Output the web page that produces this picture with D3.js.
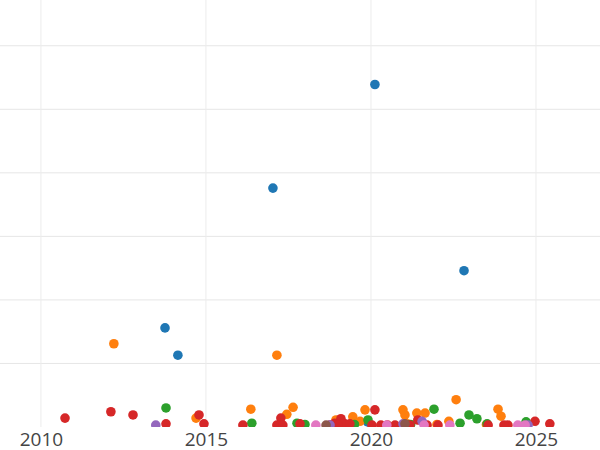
<!DOCTYPE html>
<html>
<head>
<meta charset="utf-8">
<script src="https://cdn.jsdelivr.net/npm/d3@7"></script>
<style>body{margin:0;background:#fff}</style>
</head>
<body>
<svg id="chart" width="600" height="450"></svg>
<script>
const xTicks = [2010, 2015, 2020, 2025];
const yGrid = [1, 2, 3, 4, 5, 6];
const groups = ["blue", "orange", "green", "red", "purple", "brown", "pink"];
const blueX = [2020.12, 2017.03, 2022.82, 2013.76, 2014.15, 2019.9];
const blueY = [5.39, 3.76, 2.46, 1.56, 1.13, 0.08];
const orangeX = [2012.21, 2017.15, 2022.58, 2017.64, 2016.36, 2019.82, 2020.97, 2023.85, 2017.45, 2014.70, 2019.45, 2021.39, 2021.64, 2021.03, 2023.94, 2022.36, 2018.94, 2019.67, 2019.1, 2021.1, 2022.0, 2023.5];
const orangeY = [1.31, 1.13, 0.43, 0.31, 0.28, 0.27, 0.27, 0.28, 0.20, 0.14, 0.16, 0.22, 0.22, 0.19, 0.17, 0.09, 0.11, 0.09, 0.06, 0.05, 0.04, 0.04];
const greenX = [2013.79, 2021.91, 2022.97, 2023.21, 2019.91, 2016.39, 2017.76, 2024.70, 2022.70, 2023.52, 2018.0, 2021.2, 2019.5];
const greenY = [0.30, 0.28, 0.19, 0.13, 0.11, 0.06, 0.06, 0.08, 0.06, 0.05, 0.04, 0.04, 0.04];
const redX = [2010.73, 2012.12, 2012.79, 2014.79, 2020.12, 2017.27, 2019.09, 2021.42, 2024.97, 2013.79, 2014.94, 2016.12, 2017.15, 2017.33, 2017.85, 2018.76, 2019.18, 2019.36, 2020.03, 2020.30, 2020.73, 2021.18, 2022.03, 2023.55, 2024.15, 2025.42, 2024.03, 2018.9, 2019.0, 2020.5, 2021.7];
const redY = [0.14, 0.24, 0.19, 0.19, 0.27, 0.14, 0.13, 0.11, 0.09, 0.05, 0.05, 0.03, 0.03, 0.03, 0.05, 0.03, 0.06, 0.05, 0.03, 0.03, 0.03, 0.03, 0.03, 0.03, 0.03, 0.05, 0.03, 0.06, 0.03, 0.03, 0.03];
const purpleX = [2013.48, 2020.97, 2021.55, 2024.76, 2018.76];
const purpleY = [0.03, 0.05, 0.09, 0.03, 0.03];
const brownX = [2018.64, 2021.03];
const brownY = [0.03, 0.05];
const pinkX = [2018.33, 2020.48, 2021.61, 2022.39, 2024.45, 2024.67];
const pinkY = [0.03, 0.03, 0.03, 0.03, 0.03, 0.03];

const series = {
  blue: [blueX, blueY], orange: [orangeX, orangeY], green: [greenX, greenY],
  red: [redX, redY], purple: [purpleX, purpleY], brown: [brownX, brownY], pink: [pinkX, pinkY]
};
const color = d3.scaleOrdinal(groups, ["#1f77b4", "#ff7f0e", "#2ca02c", "#d62728", "#9467bd", "#8c564b", "#e377c2"]);

const svg = d3.select("#chart");
const x = d3.scaleLinear().domain([2008.76, 2026.94]).range([0, 600]);
const y = d3.scaleLinear().domain([0, 6.72]).range([427, 0]);

svg.append("defs").append("clipPath").attr("id", "clip")
  .append("rect").attr("x", 0).attr("y", 0).attr("width", 600).attr("height", 427);

svg.append("g").selectAll("line").data(yGrid).join("line")
  .attr("x1", 0).attr("x2", 600).attr("y1", d => y(d)).attr("y2", d => y(d))
  .attr("stroke", "#e6e6e6");
svg.append("g").selectAll("line").data(xTicks).join("line")
  .attr("y1", 0).attr("y2", 427).attr("x1", d => x(d)).attr("x2", d => x(d))
  .attr("stroke", "#ececec");

const pts = groups.flatMap(g => series[g][0].map((v, i) => ({g, x: v, y: series[g][1][i]})));
svg.append("g").attr("clip-path", "url(#clip)")
  .selectAll("circle").data(pts).join("circle")
  .attr("cx", d => x(d.x)).attr("cy", d => y(d.y)).attr("r", 4.8)
  .attr("fill", d => color(d.g));

const xAxis = svg.append("g").attr("transform", "translate(0,427)")
  .call(d3.axisBottom(x).tickValues(xTicks).tickFormat(d3.format("d")).tickSize(0).tickPadding(5));
xAxis.select(".domain").remove();
xAxis.selectAll("text").attr("font-family", "Open Sans, sans-serif").attr("font-size", 19).attr("fill", "#444");
</script>
</body>
</html>
